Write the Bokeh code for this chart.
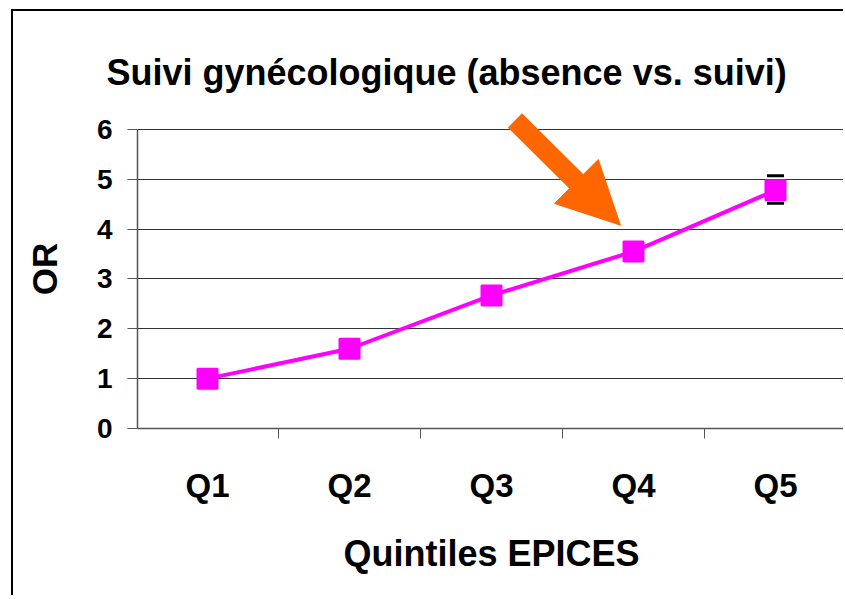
from bokeh.plotting import figure
from bokeh.models import (ColumnDataSource, Range1d, FixedTicker, Arrow, NormalHead,
                          Whisker, TeeHead)
from bokeh.embed import file_html
from bokeh.resources import INLINE

# ---- data ----
categories = ["Q1", "Q2", "Q3", "Q4", "Q5"]
odds_ratio = [1.0, 1.6, 2.67, 3.55, 4.78]
ci_lower = [None, None, None, None, 4.52]
ci_upper = [None, None, None, None, 5.07]
y_ticks = [0, 1, 2, 3, 4, 5, 6]

title_text = "Suivi gynécologique (absence vs. suivi)"
x_label = "Quintiles EPICES"
y_label = "OR"

FONT = "Liberation Sans"
MAGENTA = "#FF00FF"
ORANGE = "#FF6600"

xs = list(range(len(categories)))
src = ColumnDataSource(dict(x=xs, y=odds_ratio))
err_idx = [i for i, v in enumerate(ci_upper) if v is not None]
err_src = ColumnDataSource(dict(x=[xs[i] for i in err_idx],
                                upper=[ci_upper[i] for i in err_idx],
                                lower=[ci_lower[i] for i in err_idx]))

p = figure(width=832, height=586, output_backend="svg", toolbar_location=None,
           x_range=Range1d(-0.493, 4.493), y_range=Range1d(0, 6.4),
           min_border_left=124, min_border_right=0, min_border_top=98,
           min_border_bottom=169)
# chart frame (thin black border on left/top, as in the slide)
p.styles = {"margin-left": "11px", "margin-top": "9px",
            "border-left": "2px solid #000", "border-top": "2px solid #000",
            "overflow": "hidden"}

p.outline_line_color = None
p.background_fill_color = "white"
p.border_fill_color = "white"

# title
p.title.text = title_text
p.title.text_font = FONT
p.title.text_font_size = "36px"
p.title.text_font_style = "bold"
p.title.text_color = "black"
p.title.align = "left"
p.title.offset = -31
p.title.standoff = 33

# x axis
p.xaxis.ticker = FixedTicker(ticks=xs, minor_ticks=[-0.5, 0.5, 1.5, 2.5, 3.5])
p.xaxis.major_label_overrides = {i: c for i, c in zip(xs, categories)}
p.xaxis.major_tick_line_color = None
p.xaxis.major_tick_out = 10
p.xaxis.minor_tick_out = 10
p.xaxis.minor_tick_in = 0
p.xaxis.minor_tick_line_color = "#555555"
p.xaxis.axis_line_color = "#555555"
p.xaxis.axis_line_width = 1.5
p.xaxis.major_label_text_font = FONT
p.xaxis.major_label_text_font_style = "bold"
p.xaxis.major_label_text_font_size = "33px"
p.xaxis.major_label_text_color = "black"
p.xaxis.major_label_standoff = 28
p.xaxis.axis_label = x_label
p.xaxis.axis_label_text_font = FONT
p.xaxis.axis_label_text_font_style = "bold"
p.xaxis.axis_label_text_font_size = "36px"
p.xaxis.axis_label_text_color = "black"
p.xaxis.axis_label_standoff = 26

# y axis
p.yaxis.ticker = FixedTicker(ticks=y_ticks, minor_ticks=[])
p.yaxis.bounds = (0, 6)
p.yaxis.major_tick_out = 10
p.yaxis.major_tick_in = 0
p.yaxis.major_tick_line_color = "#555555"
p.yaxis.axis_line_color = "#555555"
p.yaxis.axis_line_width = 1.5
p.yaxis.major_label_text_font = FONT
p.yaxis.major_label_text_font_style = "bold"
p.yaxis.major_label_text_font_size = "28px"
p.yaxis.major_label_text_color = "black"
p.yaxis.major_label_standoff = 15
p.yaxis.axis_label = y_label
p.yaxis.axis_label_text_font = FONT
p.yaxis.axis_label_text_font_style = "bold"
p.yaxis.axis_label_text_font_size = "35px"
p.yaxis.axis_label_text_color = "black"
p.yaxis.axis_label_standoff = 30

p.xgrid.grid_line_color = None
p.ygrid.ticker = FixedTicker(ticks=y_ticks)
p.ygrid.grid_line_color = "#333333"
p.ygrid.grid_line_width = 1

# series
p.line("x", "y", source=src, line_color=MAGENTA, line_width=4)
p.scatter("x", "y", source=src, marker="square", size=20,
          fill_color=MAGENTA, line_color=MAGENTA, line_width=2)

w = Whisker(source=err_src, base="x", upper="upper", lower="lower",
            line_color=None,
            upper_head=TeeHead(size=17, line_color="black", line_width=3),
            lower_head=TeeHead(size=17, line_color="black", line_width=3))
p.add_layout(w)

# highlight arrow pointing at Q4
arrow = Arrow(end=NormalHead(size=62, fill_color=ORANGE, line_color=ORANGE, line_width=1),
              x_start=2.165, y_start=6.18, x_end=2.908, y_end=4.08,
              line_color=ORANGE, line_width=20)
p.add_layout(arrow)

open("out.html", "w").write(file_html(p, INLINE))
